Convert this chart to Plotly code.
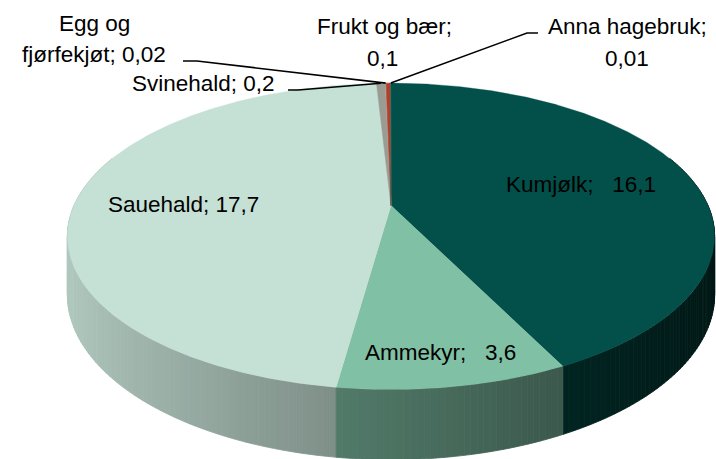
import numpy as np
import plotly.graph_objects as go

# ---------------- data ----------------
categories = ["Kumjølk", "Ammekyr", "Sauehald", "Svinehald",
              "Egg og fjørfekjøt", "Frukt og bær", "Anna hagebruk"]
values = [16.1, 3.6, 17.7, 0.2, 0.02, 0.1, 0.01]

# ---------------- styling / layout ----------------
top_colors = ["#03504A", "#80C0A5", "#C5E0D5", "#9A9B92", "#A9A89E", "#B0402C", "#2E6B5E"]
label_sep = ["\u00a0\u00a0 ", "\u00a0\u00a0 ", " ", " ", " ", " ", " "]
label_wrap = [None, None, None, None, 2, 3, 2]        # words on first line
label_pos = [
    [(581, 184)],
    [(440, 352)],
    [(183, 204)],
    [(203, 83)],
    [(94, 23), (94, 54)],
    [(384, 26), (382, 58)],
    [(627, 26), (627, 58)],
]
leader_start = {3: [(288, 90), (298, 90)],
                4: [(183, 61), (197, 61)],
                6: [(538, 33), (527, 33)]}

W, H = 716, 459
CX, CY, R, RY, DIST, DEPTH = 391.0, 205.5, 317.0, 147.0, 4.97, 56.0


def proj(theta_deg, depth=0.0):
    t = np.radians(theta_deg)
    X = np.sin(t)
    D = -np.cos(t)
    s = DIST / (DIST - D)
    return CX + R * X * s, CY + (RY * D + depth) * s


def hex2rgb(h):
    h = h.lstrip("#")
    return [int(h[i:i + 2], 16) for i in (0, 2, 4)]


def shade(hexc, theta):
    X = np.sin(np.radians(theta))
    k = 0.6 - 0.31 * X
    r, g, b = hex2rgb(hexc)
    return "rgb(%d,%d,%d)" % (min(255, r * k), min(255, g * k), min(255, b * k))


def fmt(v):
    return ("%g" % v).replace(".", ",")


total = sum(values)
angles = np.cumsum([0] + [v / total * 360 for v in values])

fig = go.Figure()

# ---- sides (back to front) ----
strips = []
for i, v in enumerate(values):
    a0, a1 = angles[i], angles[i + 1]
    lo, hi = max(a0, 70), min(a1, 290)
    if hi <= lo:
        continue
    n = max(1, int(np.ceil((hi - lo) / 1.0)))
    edges = np.linspace(lo, hi, n + 1)
    for j in range(n):
        e0, e1 = edges[j], edges[j + 1]
        tt = np.linspace(e0, e1, 4)
        xt, yt = proj(tt, 0)
        xb, yb = proj(tt[::-1], DEPTH)
        mid = 0.5 * (e0 + e1)
        strips.append((-np.cos(np.radians(mid)), xt, yt, xb, yb, shade(top_colors[i], mid)))
strips.sort(key=lambda s: s[0])
for _, xt, yt, xb, yb, col in strips:
    fig.add_trace(go.Scatter(
        x=np.concatenate([xt, xb, xt[:1]]), y=np.concatenate([yt, yb, yt[:1]]),
        mode="lines", fill="toself", fillcolor=col,
        line=dict(color=col, width=0.8), hoverinfo="skip", showlegend=False))

# ---- top faces ----
for i, v in enumerate(values):
    a0, a1 = angles[i], angles[i + 1]
    n = max(2, int(np.ceil((a1 - a0) / 0.25)))
    tt = np.linspace(a0, a1, n + 1)
    xa, ya = proj(tt, 0)
    xs = np.concatenate([[CX], xa, [CX]])
    ys = np.concatenate([[CY], ya, [CY]])
    fig.add_trace(go.Scatter(
        x=xs, y=ys, mode="lines", fill="toself", fillcolor=top_colors[i],
        line=dict(color=top_colors[i], width=0.3 if v / total > 0.01 else 0.6),
        hoverinfo="skip", showlegend=False))

# ---- leader lines ----
for i, pts in leader_start.items():
    mid = 0.5 * (angles[i] + angles[i + 1])
    ex, ey = proj(mid, 0)
    fig.add_trace(go.Scatter(
        x=[p[0] for p in pts] + [ex], y=[p[1] for p in pts] + [ey],
        mode="lines", line=dict(color="black", width=1.6),
        hoverinfo="skip", showlegend=False))

# ---- labels ----
annotations = []
for i, name in enumerate(categories):
    full = f"{name};{label_sep[i]}{fmt(values[i])}"
    if label_wrap[i] is None:
        lines = [full]
    else:
        words = full.split(" ")
        lines = [" ".join(words[:label_wrap[i]]), " ".join(words[label_wrap[i]:])]
    for txt, (x, y) in zip(lines, label_pos[i]):
        annotations.append(dict(x=x, y=y, xref="x", yref="y", text=txt, showarrow=False,
                                xanchor="center", yanchor="middle",
                                font=dict(family="Liberation Sans", size=22.5, color="black")))

fig.update_layout(
    width=W, height=H, margin=dict(l=0, r=0, t=0, b=0),
    paper_bgcolor="white", plot_bgcolor="white",
    xaxis=dict(range=[0, W], visible=False, fixedrange=True),
    yaxis=dict(range=[H, 0], visible=False, fixedrange=True),
    annotations=annotations, showlegend=False,
)
fig.write_html("out.html", config={"displayModeBar": False},
               post_script="document.body.style.margin='0';document.body.style.padding='0';"
                           "document.body.style.overflow='hidden';")
